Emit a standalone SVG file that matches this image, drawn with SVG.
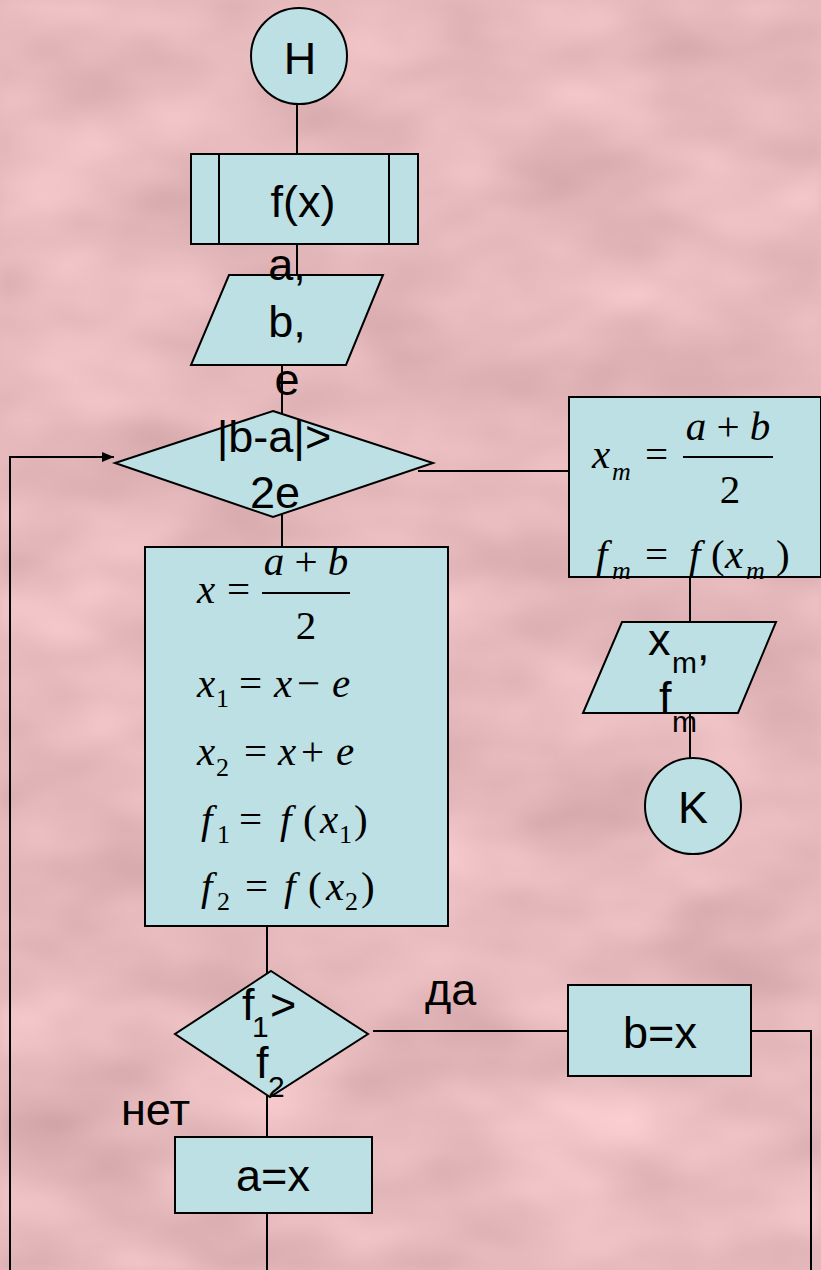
<svg xmlns="http://www.w3.org/2000/svg" width="821" height="1270" viewBox="0 0 821 1270">
<defs>
<filter id="tex" x="0" y="0" width="100%" height="100%" color-interpolation-filters="sRGB">
<feTurbulence type="fractalNoise" baseFrequency="0.006 0.012" numOctaves="3" seed="7"/>
<feColorMatrix values="0.2 0 0 0 0.8  0.2 0 0 0 0.625  0.2 0 0 0 0.635  0 0 0 0 1"/>
<feGaussianBlur stdDeviation="4"/>
</filter>
<marker id="arr" viewBox="0 0 12 10" refX="12" refY="5" markerWidth="12" markerHeight="10" markerUnits="userSpaceOnUse" orient="auto">
<path d="M0,0 L12,5 L0,10 z" fill="#000"/>
</marker>
<style>
.n{fill:#bce0e3;stroke:#000;stroke-width:2}
.c{fill:none;stroke:#000;stroke-width:2}
.t{font-family:"Liberation Sans",Arial,sans-serif;font-size:45px;fill:#000}
.ts{font-family:"Liberation Sans",Arial,sans-serif;font-size:30px;fill:#000}
.mi{font-family:"Liberation Serif","Times New Roman",serif;font-style:italic;font-size:41px;fill:#000}
.mo{font-family:"Liberation Serif","Times New Roman",serif;font-size:41px;fill:#000}
.ms{font-family:"Liberation Serif","Times New Roman",serif;font-size:26px;fill:#000}
.msi{font-family:"Liberation Serif","Times New Roman",serif;font-style:italic;font-size:26px;fill:#000}
.m{text-anchor:middle}
</style>
</defs>
<rect width="821" height="1270" fill="#e6babb"/>
<rect width="821" height="1270" filter="url(#tex)"/>

<g id="connectors">
<line class="c" x1="297" y1="104" x2="297" y2="154"/>
<line class="c" x1="297" y1="244" x2="297" y2="275"/>
<line class="c" x1="282" y1="365" x2="282" y2="414"/>
<line class="c" x1="282" y1="514" x2="282" y2="547"/>
<line class="c" x1="418" y1="471" x2="569" y2="471"/>
<line class="c" x1="690" y1="577" x2="690" y2="622"/>
<line class="c" x1="690" y1="713" x2="690" y2="758"/>
<line class="c" x1="267" y1="926" x2="267" y2="974"/>
<line class="c" x1="267" y1="1095" x2="267" y2="1137"/>
<line class="c" x1="267" y1="1213" x2="267" y2="1270"/>
<line class="c" x1="373" y1="1031" x2="568" y2="1031"/>
<polyline class="c" points="751,1031 811,1031 811,1270"/>
<polyline class="c" points="10,1270 10,457 114,457" marker-end="url(#arr)"/>
</g>

<g id="start">
<circle class="n" cx="299" cy="56" r="48"/>
<text class="t m" x="300" y="74">H</text>
</g>

<g id="func">
<rect class="n" x="191" y="154" width="227" height="90"/>
<line class="c" x1="219" y1="154" x2="219" y2="244"/>
<line class="c" x1="389" y1="154" x2="389" y2="244"/>
<text class="t m" x="303" y="217">f(x)</text>
</g>

<g id="input">
<polygon class="n" points="229,275 383,275 346,365 191,365"/>
<text class="t m" x="287" y="280">a,</text>
<text class="t m" x="287" y="337">b,</text>
<text class="t m" x="287" y="395">e</text>
</g>

<g id="cond1">
<polygon class="n" points="273,411 433,463 273,517 115,463"/>
<text class="t m" x="274" y="452">|b-a|&gt;</text>
<text class="t m" x="275" y="508">2e</text>
</g>

<g id="result">
<rect class="n" x="569" y="397" width="252" height="180"/>
<text class="mi" x="592" y="468">x</text>
<text class="msi" x="612" y="480">m</text>
<text class="mo" x="645" y="468">=</text>
<line x1="683" y1="457" x2="773" y2="457" stroke="#000" stroke-width="2"/>
<text class="m" x="728" y="440"><tspan class="mi">a</tspan><tspan class="mo"> + </tspan><tspan class="mi">b</tspan></text>
<text class="mo m" x="730" y="503">2</text>
<text class="mi" x="596" y="568">f</text>
<text class="msi" x="612" y="579">m</text>
<text class="mo" x="645" y="568">=</text>
<text class="mi" x="689" y="568">f</text>
<text class="mo" x="711" y="568">(</text>
<text class="mi" x="725" y="568">x</text>
<text class="msi" x="746" y="579">m</text>
<text class="mo" x="776" y="568">)</text>
</g>

<g id="output">
<polygon class="n" points="622,622 776,622 738,713 583,713"/>
<text class="t" x="648" y="655">x</text>
<text class="ts" x="672" y="673">m</text>
<text class="t" x="697" y="660">,</text>
<text class="t" x="659" y="713">f</text>
<text class="ts" x="672" y="732">m</text>
</g>

<g id="end">
<circle class="n" cx="693" cy="806" r="48"/>
<text class="t m" x="693" y="823">K</text>
</g>

<g id="calc">
<rect class="n" x="145" y="547" width="303" height="379"/>
<text class="mi" x="197" y="603">x</text>
<text class="mo" x="227" y="603">=</text>
<line x1="262" y1="593" x2="350" y2="593" stroke="#000" stroke-width="2"/>
<text class="m" x="306" y="575"><tspan class="mi">a</tspan><tspan class="mo"> + </tspan><tspan class="mi">b</tspan></text>
<text class="mo m" x="306" y="639">2</text>

<text class="mi" x="197" y="697">x</text>
<text class="ms" x="216" y="707">1</text>
<text class="mo" x="239" y="697">=</text>
<text class="mi" x="274" y="697">x</text>
<text class="mo" x="297" y="697">−</text>
<text class="mi" x="332" y="697">e</text>

<text class="mi" x="197" y="765">x</text>
<text class="ms" x="216" y="776">2</text>
<text class="mo" x="244" y="765">=</text>
<text class="mi" x="278" y="765">x</text>
<text class="mo" x="301" y="765">+</text>
<text class="mi" x="336" y="765">e</text>

<text class="mi" x="201" y="833">f</text>
<text class="ms" x="217" y="843">1</text>
<text class="mo" x="239" y="833">=</text>
<text class="mi" x="280" y="833">f</text>
<text class="mo" x="303" y="833">(</text>
<text class="mi" x="320" y="833">x</text>
<text class="ms" x="339" y="843">1</text>
<text class="mo" x="354" y="833">)</text>

<text class="mi" x="201" y="900">f</text>
<text class="ms" x="217" y="910">2</text>
<text class="mo" x="245" y="900">=</text>
<text class="mi" x="284" y="900">f</text>
<text class="mo" x="308" y="900">(</text>
<text class="mi" x="326" y="900">x</text>
<text class="ms" x="345" y="910">2</text>
<text class="mo" x="361" y="900">)</text>
</g>

<g id="cond2">
<polygon class="n" points="271,971 368,1034 270,1097 175,1034"/>
<text class="t" x="242" y="1020">f</text>
<text class="ts" x="252" y="1037">1</text>
<text class="t" x="270" y="1020">&gt;</text>
<text class="t" x="256" y="1078">f</text>
<text class="ts" x="268" y="1097">2</text>
</g>

<g id="labels">
<text class="t" x="425" y="1005">да</text>
<text class="t" x="121" y="1125">нет</text>
</g>

<g id="setb">
<rect class="n" x="568" y="985" width="183" height="91"/>
<text class="t m" x="660" y="1048">b=x</text>
</g>

<g id="seta">
<rect class="n" x="175" y="1137" width="197" height="76"/>
<text class="t m" x="273" y="1191">a=x</text>
</g>
</svg>
